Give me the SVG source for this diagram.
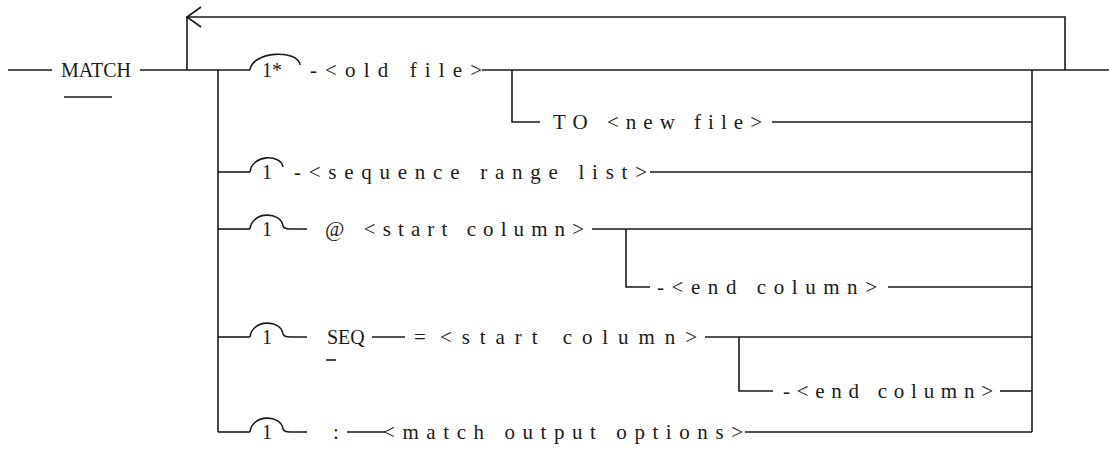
<svg xmlns="http://www.w3.org/2000/svg" width="1109" height="457" viewBox="0 0 1109 457">
<style>
.ln{fill:none;stroke:#1a1a1a;stroke-width:1.6}
.kw{font-family:"Liberation Serif",serif;font-size:20px;fill:#1a1a1a}
.tx{font-family:"Liberation Serif",serif;font-size:21px;fill:#1a1a1a}
.num{font-family:"Liberation Serif",serif;font-size:20px;fill:#1a1a1a}
</style>
<rect width="1109" height="457" fill="#ffffff"/>
<g id="connectors">
<path class="ln" d="M8 70 H52"/>
<path class="ln" d="M140 70 H250"/>
<path class="ln" d="M187 70 V17 H1065 V70"/>
<path class="ln" d="M201 7 L187 17 L201 27"/>
<path class="ln" d="M1032 70 H1109"/>
<path class="ln" d="M1032 70 V432"/>
<path class="ln" d="M218 70 V432"/>
<path class="ln" d="M218 172 H250"/>
<path class="ln" d="M218 229 H250"/>
<path class="ln" d="M218 337 H250"/>
<path class="ln" d="M218 432 H250"/>
<path class="ln" d="M250 70 C252 51 298 49 300 65"/>
<path class="ln" d="M482 70 H1032"/>
<path class="ln" d="M512 70 V122 H540"/>
<path class="ln" d="M772 122 H1032"/>
<path class="ln" d="M250 172 C252 154 281 154 283 167"/>
<path class="ln" d="M650 172 H1032"/>
<path class="ln" d="M250 229 C252 211 281 211 283 226 Q284 229 290 229 H307"/>
<path class="ln" d="M592 229 H1032"/>
<path class="ln" d="M626 229 V287 H650"/>
<path class="ln" d="M888 287 H1032"/>
<path class="ln" d="M250 337 C252 319 281 319 283 334 Q284 337 290 337 H307"/>
<path class="ln" d="M372 337 H405"/>
<path class="ln" d="M705 337 H1032"/>
<path class="ln" d="M739 337 V391 H773"/>
<path class="ln" d="M1000 391 H1032"/>
<path class="ln" d="M250 432 C252 414 281 414 283 429 Q284 432 290 432 H307"/>
<path class="ln" d="M347 432 H385"/>
<path class="ln" d="M745 432 H1032"/>
</g>
<g id="match">
<text class="kw" x="61" y="77">MATCH</text>
<path class="ln" d="M64 97 H112"/>
</g>
<g id="old-file">
<text class="num" x="262" y="77">1*</text>
<text class="tx" x="310" y="77" textLength="172" lengthAdjust="spacing">-&lt;old file&gt;</text>
</g>
<g id="new-file">
<text class="tx" x="553" y="129" textLength="209" lengthAdjust="spacing">TO &lt;new file&gt;</text>
</g>
<g id="sequence-range">
<text class="num" x="262" y="179">1</text>
<text class="tx" x="294" y="179" textLength="353" lengthAdjust="spacing">-&lt;sequence range list&gt;</text>
</g>
<g id="at-start">
<text class="num" x="262" y="236">1</text>
<text class="tx" x="325" y="236" textLength="259" lengthAdjust="spacing">@ &lt;start column&gt;</text>
</g>
<g id="at-end">
<text class="tx" x="657" y="294" textLength="220" lengthAdjust="spacing">-&lt;end column&gt;</text>
</g>
<g id="seq-start">
<text class="num" x="262" y="344">1</text>
<text class="kw" x="327" y="344">SEQ</text>
<path class="ln" d="M326 360 H336"/>
<text class="tx" x="414" y="344">=</text>
<text class="tx" x="440" y="344" textLength="257" lengthAdjust="spacing">&lt;start column&gt;</text>
</g>
<g id="seq-end">
<text class="tx" x="783" y="398" textLength="210" lengthAdjust="spacing">-&lt;end column&gt;</text>
</g>
<g id="output-options">
<text class="num" x="262" y="439">1</text>
<text class="tx" x="333" y="439">:</text>
<text class="tx" x="383" y="439" textLength="360" lengthAdjust="spacing">&lt;match output options&gt;</text>
</g>
</svg>
